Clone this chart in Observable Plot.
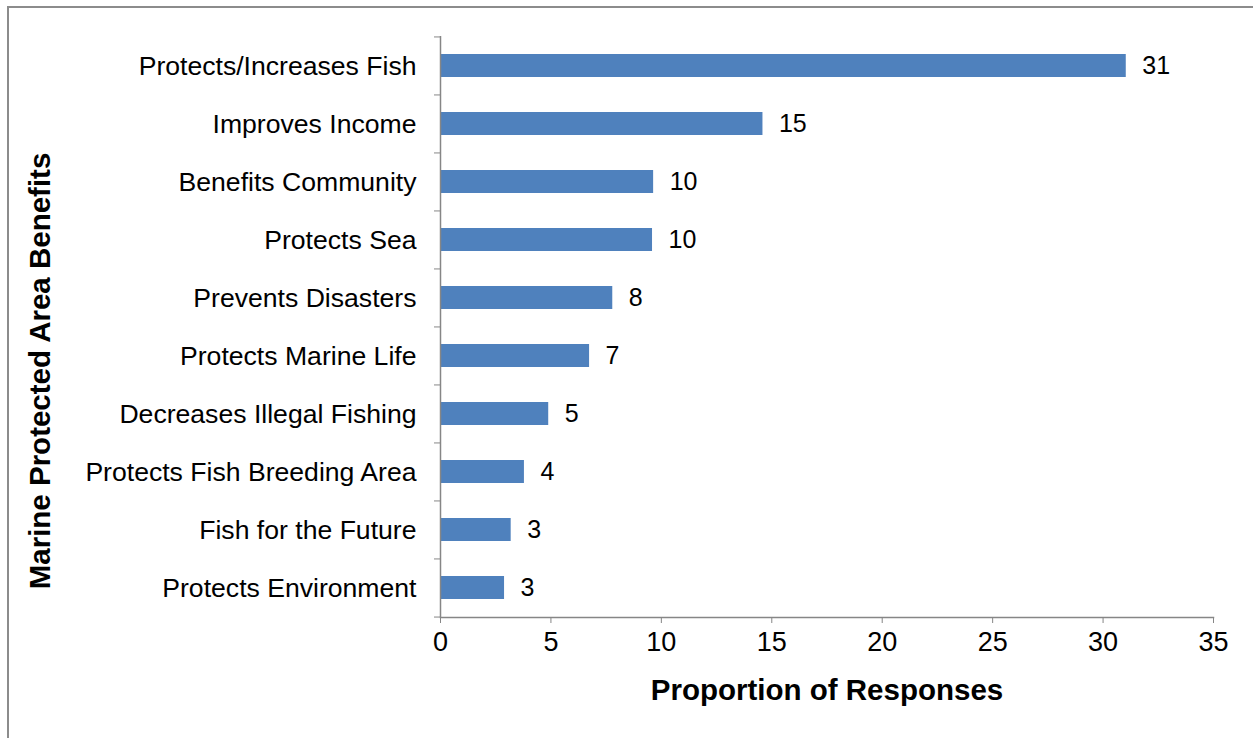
<!DOCTYPE html>
<html>
<head>
<meta charset="utf-8">
<script src="https://cdn.jsdelivr.net/npm/d3@7"></script>
<script src="https://cdn.jsdelivr.net/npm/@observablehq/plot@0.6"></script>
<style>
  html, body { margin: 0; padding: 0; background: #fff; overflow: hidden; }
  #wrap { position: relative; width: 1253px; height: 738px; }
  #border { position: absolute; left: 7px; top: 6px; width: 1400px; height: 900px;
            border-left: 2px solid #8c8c8c; border-top: 2px solid #8c8c8c; pointer-events: none; }
  svg { font-family: "Liberation Sans", Arial, sans-serif; }
</style>
</head>
<body>
<div id="wrap"><div id="border"></div></div>
<script>
const categories = [
  "Protects/Increases Fish",
  "Improves Income",
  "Benefits Community",
  "Protects Sea",
  "Prevents Disasters",
  "Protects Marine Life",
  "Decreases Illegal Fishing",
  "Protects Fish Breeding Area",
  "Fish for the Future",
  "Protects Environment"
];
const values = [31.05, 14.6, 9.65, 9.6, 7.8, 6.75, 4.9, 3.8, 3.2, 2.9];
const labels = ["31", "15", "10", "10", "8", "7", "5", "4", "3", "3"];
const xTicks = [0, 5, 10, 15, 20, 25, 30, 35];
const xTitle = "Proportion of Responses";
const yTitle = "Marine Protected Area Benefits";

const data = categories.map((c, i) => ({category: c, value: values[i], label: labels[i]}));

const W = 1253, H = 738, mT = 36, mB = 121, mL = 440, mR = 40;
const step = (H - mT - mB) / categories.length;
const gray = "#868686";

const chart = Plot.plot({
  width: W, height: H,
  marginTop: mT, marginBottom: mB, marginLeft: mL, marginRight: mR,
  style: {fontFamily: '"Liberation Sans", Arial, sans-serif', color: "#000", background: "transparent"},
  x: {domain: [0, 35], axis: null},
  y: {domain: categories, paddingInner: 0.6, paddingOuter: 0.3, axis: null},
  marks: [
    Plot.barX(data, {x: "value", y: "category", fill: "#4F81BD"}),
    Plot.ruleX([0], {stroke: gray, strokeWidth: 1.5}),
    Plot.frame({anchor: "bottom", stroke: gray, strokeWidth: 1.5}),
    Plot.axisX({ticks: xTicks, tickSize: 6, tickPadding: 8, fontSize: 27, stroke: gray, fill: "#000", label: null}),
    Plot.axisY({tickSize: 0, tickPadding: 24, fontSize: 26.6, fill: "#000", label: null}),
    Plot.axisY({tickSize: 6, tickFormat: () => "", stroke: gray, dy: -step / 2, label: null}),
    Plot.axisY({ticks: [categories[categories.length - 1]], tickSize: 6, tickFormat: () => "", stroke: gray, dy: step / 2, label: null}),
    Plot.text(data, {x: "value", y: "category", text: "label", textAnchor: "start", dx: 16, fontSize: 25, fill: "#000"}),
    Plot.text([xTitle], {frameAnchor: "bottom", lineAnchor: "middle", textAnchor: "middle", dy: 73, fontSize: 29.5, fontWeight: "bold", fill: "#000"}),
    Plot.text([yTitle], {frameAnchor: "left", textAnchor: "middle", lineAnchor: "middle", dx: -400, dy: 44, rotate: -90, fontSize: 29.5, fontWeight: "bold", fill: "#000"})
  ]
});
document.getElementById("wrap").insertBefore(chart, document.getElementById("border"));
</script>
</body>
</html>
